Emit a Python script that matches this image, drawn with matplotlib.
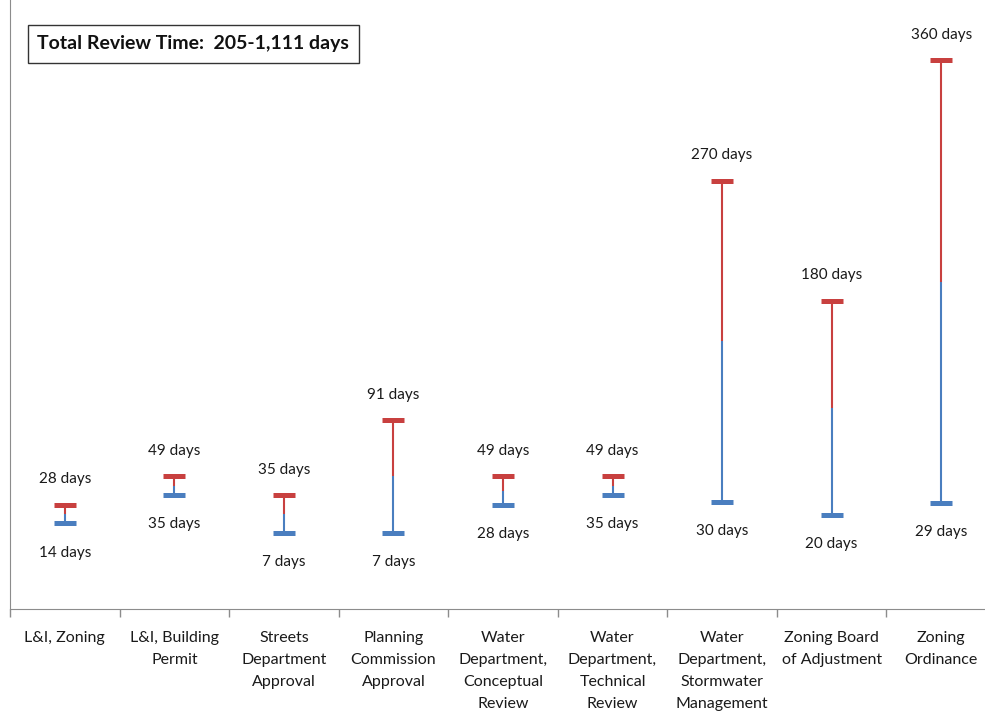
import matplotlib.pyplot as plt
from matplotlib.patches import Rectangle

# Review steps and their min / max review time (days)
steps = [
    "L&I, Zoning",
    "L&I, Building\nPermit",
    "Streets\nDepartment\nApproval",
    "Planning\nCommission\nApproval",
    "Water\nDepartment,\nConceptual\nReview",
    "Water\nDepartment,\nTechnical\nReview",
    "Water\nDepartment,\nStormwater\nManagement",
    "Zoning Board\nof Adjustment",
    "Zoning\nOrdinance",
]
min_days = [14, 35, 7, 7, 28, 35, 30, 20, 29]
max_days = [28, 49, 35, 91, 49, 49, 270, 180, 360]
total_text = "Total Review Time:  205-1,111 days"

blue = "#4A7EBF"
red = "#C8403F"
grey = "#8C8C8C"

plt.rcParams["font.family"] = ["Lato", "DejaVu Sans"]

fig = plt.figure(figsize=(9.85, 7.14), dpi=100)
ax = fig.add_axes([10 / 985, 105 / 714, 986 / 985, 609 / 714])

for i, (lo, hi) in enumerate(zip(min_days, max_days)):
    mid = (lo + hi) / 2
    # stem: lower half blue, upper half red
    ax.vlines(i, lo, mid, color=blue, linewidth=1.5)
    ax.vlines(i, mid, hi, color=red, linewidth=1.5)
    # caps
    ax.hlines(lo, i - 0.1, i + 0.1, color=blue, linewidth=3.6)
    ax.hlines(hi, i - 0.1, i + 0.1, color=red, linewidth=3.6)
    ax.annotate(f"{hi} days", (i, hi), xytext=(0, 18.5), textcoords="offset points",
                ha="center", va="center", fontsize=11, color="#1a1a1a")
    ax.annotate(f"{lo} days", (i, lo), xytext=(0, -21), textcoords="offset points",
                ha="center", va="center", fontsize=11, color="#1a1a1a")

ax.set_xlim(-0.5, len(steps) - 0.5)
ax.set_ylim(-50, 405)

ax.set_xticks(range(len(steps)))
ax.set_xticklabels(steps, fontsize=11.5, color="#1a1a1a", linespacing=1.72)
ax.tick_params(axis="x", which="major", length=0, pad=16)
ax.set_xticks([i - 0.5 for i in range(len(steps) + 1)], minor=True)
ax.tick_params(axis="x", which="minor", length=6, color=grey, width=1)
ax.set_yticks([])

for side in ["top", "right"]:
    ax.spines[side].set_visible(False)
ax.spines["left"].set_color(grey)
ax.spines["bottom"].set_color(grey)

# summary box in the top-left corner
fig.patches.append(Rectangle((28 / 985, 1 - 63 / 714), 331 / 985, 38 / 714,
                             transform=fig.transFigure, fill=False,
                             edgecolor="#333333", linewidth=1))
fig.text(193 / 985, 1 - 44 / 714, total_text, ha="center", va="center",
         fontsize=14, fontweight="bold", color="#111111")

plt.savefig("out.png", dpi=100)
